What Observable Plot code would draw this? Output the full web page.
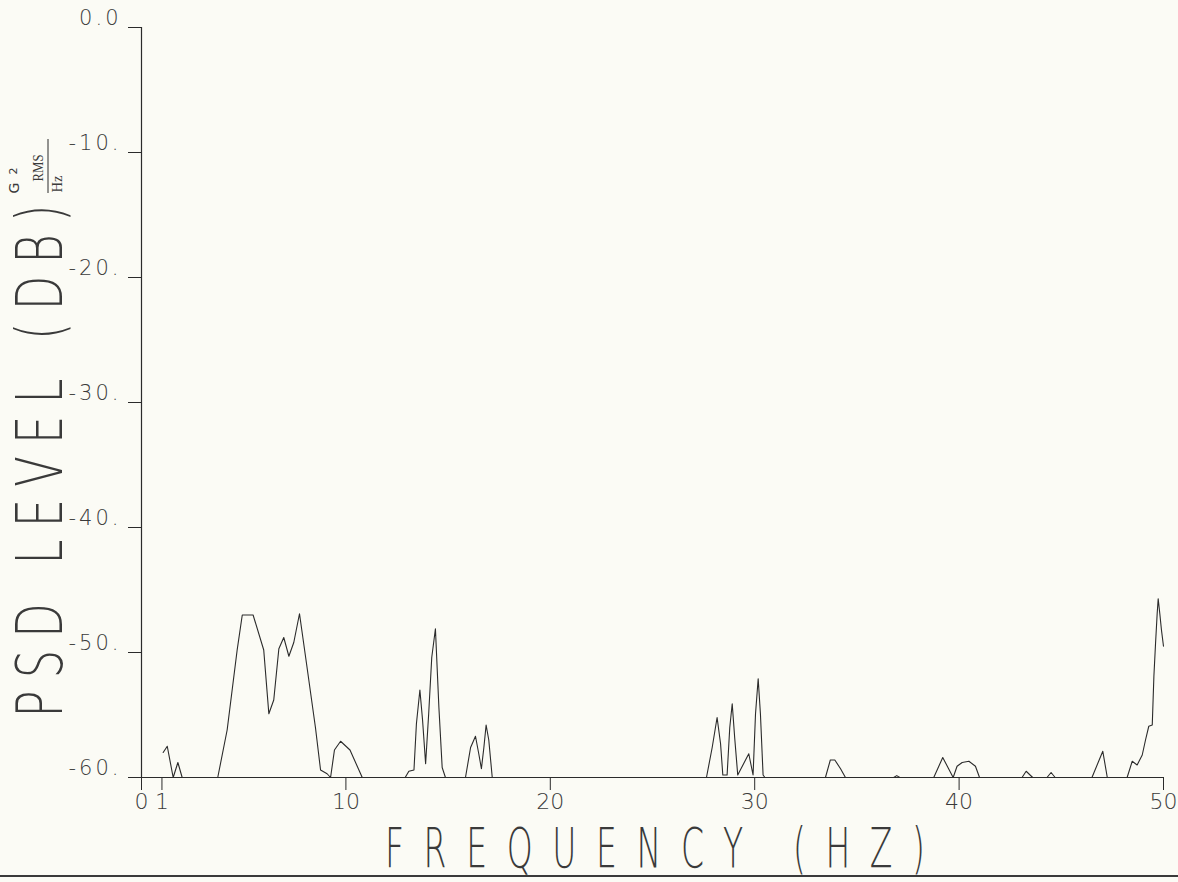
<!DOCTYPE html>
<html>
<head>
<meta charset="utf-8">
<script src="https://cdn.jsdelivr.net/npm/d3@7"></script>
<script src="https://cdn.jsdelivr.net/npm/@observablehq/plot@0.6"></script>
<style>
  html, body { margin: 0; padding: 0; background: #fbfbf5; }
  #chart { position: relative; width: 1178px; height: 882px; overflow: hidden; }
  #edge { position: absolute; left: 0; top: 875px; width: 1178px; height: 2px; background: #3a3a3a; }
</style>
</head>
<body>
<div id="chart"></div>
<script>
// Power spectral density trace, frequency in Hz and level in dB (g²rms/Hz)
const freq = [
  1.06, 1.26, 1.55, 1.78, 1.99,
  3.73, 4.19, 4.68, 4.93, 5.46, 5.98, 6.23, 6.47, 6.72, 6.96, 7.21, 7.45, 7.73, 8.10, 8.51, 8.76, 9.08, 9.25,
  9.44, 9.74, 10.2, 10.8,
  12.9, 13.08, 13.33, 13.45, 13.62, 13.75, 13.9, 14.05, 14.2, 14.38, 14.55, 14.71, 14.87,
  15.85, 16.1, 16.34, 16.5, 16.63, 16.75, 16.86, 16.99, 17.16,
  27.64, 27.92, 28.16, 28.33, 28.44, 28.65, 28.78, 28.9, 29.02, 29.17, 29.71, 29.92, 30.04, 30.17, 30.28, 30.41, 30.5,
  33.46, 33.7, 33.92, 34.2, 34.44,
  36.8, 36.95, 37.1,
  38.76, 39.2, 39.71, 39.9, 40.15, 40.48, 40.8, 41.0,
  43.08, 43.28, 43.6,
  44.3, 44.5, 44.7,
  46.5, 47.03, 47.25,
  48.22, 48.47, 48.71, 48.96, 49.12, 49.28, 49.45, 49.53, 49.61, 49.69, 49.74, 49.82, 49.9, 50.0
];
const psd = [
  -58.0, -57.5, -60, -58.8, -60,
  -60, -56.2, -49.8, -47.0, -47.0, -49.8, -54.9, -53.8, -49.7, -48.8, -50.3, -49.2, -46.9, -51.2, -56.0, -59.4, -59.7, -60,
  -57.8, -57.1, -57.8, -60,
  -60, -59.5, -59.4, -55.7, -53.0, -55.4, -58.9, -54.9, -50.4, -48.1, -54.4, -59.2, -60,
  -60, -57.6, -56.7, -58.1, -59.3, -57.6, -55.8, -57.0, -60,
  -60, -57.6, -55.2, -57.3, -59.8, -59.8, -56.0, -54.1, -56.8, -59.8, -58.1, -59.8, -54.9, -52.1, -54.9, -59.8, -60,
  -60, -58.6, -58.6, -59.3, -60,
  -60, -59.85, -60,
  -60, -58.4, -60, -59.1, -58.8, -58.7, -59.1, -60,
  -60, -59.5, -60,
  -60, -59.6, -60,
  -60, -57.9, -60,
  -60, -58.7, -59.0, -58.2, -57.0, -55.9, -55.8, -51.9, -49.3, -46.9, -45.7, -46.9, -48.2, -49.5
];

const yTicks = [0, -10, -20, -30, -40, -50, -60];
const yTickLabels = ["0.0", "-10.", "-20.", "-30.", "-40.", "-50.", "-60."];
const xTicks = [0, 1, 10, 20, 30, 40, 50];
const xTickLabels = ["0", "1", "10", "20", "30", "40", "50"];
const xTitle = "FREQUENCY (HZ)";
const yTitle = "PSD LEVEL (DB)";
const unitBase = "G", unitPower = "2", unitSub = "RMS", unitDen = "Hz";

const ink = "#2b2b2b";
const pen = "#3a3a3a";
const data = freq.map((f, i) => ({f, db: psd[i]}));

const chart = Plot.plot({
  width: 1178,
  height: 882,
  marginLeft: 141,
  marginRight: 15,
  marginTop: 27,
  marginBottom: 105,
  style: {background: "transparent", fontFamily: "DejaVu Sans", color: pen, overflow: "visible"},
  x: {domain: [0, 50], label: null},
  y: {domain: [-60, 0], label: null},
  marks: [
    Plot.axisY(yTicks, {tickSize: 13, tickFormat: () => "", stroke: ink, label: null}),
    Plot.axisY(yTicks, {
      tickSize: 0, tickPadding: 20, dy: -9, fontSize: 21, label: null,
      tickFormat: (d) => yTickLabels[yTicks.indexOf(d)]
    }),
    Plot.axisX(xTicks, {
      tickSize: 13, tickPadding: 3, fontSize: 22, stroke: ink, label: null,
      tickFormat: (d) => xTickLabels[xTicks.indexOf(d)]
    }),
    Plot.ruleX([0], {stroke: ink, strokeWidth: 1.2}),
    Plot.ruleY([-60], {stroke: ink, strokeWidth: 1.2}),
    Plot.line(data, {x: "f", y: "db", stroke: ink, strokeWidth: 1.1})
  ]
});

const svg = d3.select(chart);
svg.selectAll('g[aria-label="y-axis tick label"] text')
  .attr("font-weight", 200)
  .attr("letter-spacing", 3);
svg.selectAll('g[aria-label="x-axis tick label"] text')
  .attr("font-weight", 200);

// Axis titles in a tall, narrow plotter-style lettering
const titles = svg.append("g")
  .attr("fill", pen)
  .attr("font-family", "DejaVu Sans")
  .attr("font-weight", 200);

const sx = 0.6;
titles.append("text")
  .attr("transform", `scale(${sx},1)`)
  .attr("x", 655 / sx)
  .attr("y", 867)
  .attr("font-size", 55)
  .attr("text-anchor", "middle")
  .attr("textLength", 540 / sx)
  .attr("lengthAdjust", "spacing")
  .text(xTitle);

const sy = 0.7;
titles.append("text")
  .attr("transform", `rotate(-90) scale(${sy},1)`)
  .attr("x", -461 / sy)
  .attr("y", 62)
  .attr("font-size", 64)
  .attr("text-anchor", "middle")
  .attr("textLength", 513 / sy)
  .attr("lengthAdjust", "spacing")
  .text(yTitle);

// Unit, written as a fraction: G²rms over Hz, turned to read upward
const unit = svg.append("g").attr("transform", "rotate(-90)").attr("fill", pen);
unit.append("text").attr("x", -188).attr("y", 19)
  .attr("font-family", "DejaVu Sans").attr("font-size", 14).text(unitBase);
unit.append("text").attr("x", -171).attr("y", 17)
  .attr("font-family", "DejaVu Sans").attr("font-size", 11).text(unitPower);
unit.append("text").attr("x", -168).attr("y", 43)
  .attr("font-family", "Liberation Serif").attr("font-size", 14)
  .attr("textLength", 27).attr("lengthAdjust", "spacingAndGlyphs").text(unitSub);
unit.append("line").attr("x1", -193).attr("x2", -139).attr("y1", 48).attr("y2", 48)
  .attr("stroke", ink).attr("stroke-width", 1);
unit.append("text").attr("x", -184).attr("y", 62)
  .attr("font-family", "Liberation Serif").attr("font-size", 15)
  .attr("textLength", 17).attr("lengthAdjust", "spacingAndGlyphs").text(unitDen);

const holder = document.getElementById("chart");
holder.append(chart);
const edge = document.createElement("div");
edge.id = "edge";
holder.append(edge);
</script>
</body>
</html>
